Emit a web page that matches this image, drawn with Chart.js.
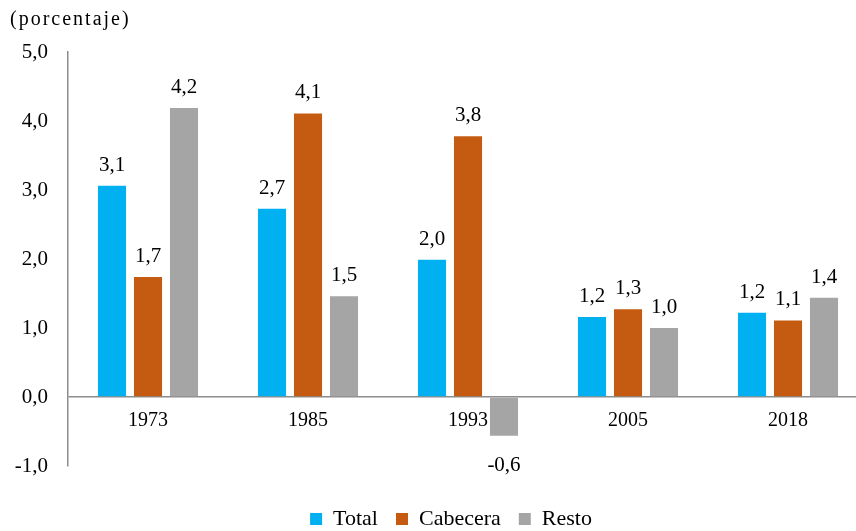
<!doctype html>
<html lang="es">
<head>
<meta charset="UTF-8">
<title>Crecimiento</title>
<script src="https://cdn.jsdelivr.net/npm/chart.js"></script>
<style>
  html, body { margin: 0; padding: 0; background: #fff; overflow: hidden; }
  #wrap { width: 880px; height: 540px; position: relative; }
</style>
</head>
<body>
<div id="wrap"><canvas id="chart"></canvas></div>
<script>
// años
const categories = ['1973', '1985', '1993', '2005', '2018'];
// tasas (porcentaje)
const total = [3.06, 2.73, 1.99, 1.16, 1.22];
const cabecera = [1.74, 4.11, 3.78, 1.27, 1.11];
const resto = [4.19, 1.46, -0.56, 1.0, 1.44];
const yTicks = [-1, 0, 1, 2, 3, 4, 5];

const serif = '"Liberation Serif", "Times New Roman", serif';
const axisGray = '#8c8c8c';

const fmt = v => v.toFixed(1).replace('.', ',');

// etiqueta del eje y arriba a la izquierda, y leyenda un poco a la derecha
const unitLabel = {
    id: 'unitLabel',
    afterLayout(chart) {
        if (chart.legend) {
            chart.legend.left += 12;
            chart.legend.right += 12;
        }
    },
    afterDraw(chart) {
        const ctx = chart.ctx;
        ctx.save();
        ctx.font = '20px ' + serif;
        ctx.letterSpacing = '2px';
        ctx.fillStyle = '#000';
        ctx.textBaseline = 'middle';
        ctx.textAlign = 'left';
        ctx.fillText('(porcentaje)', 10, 20);
        ctx.restore();
    }
};

// valores encima de las barras
const valueLabels = {
    id: 'valueLabels',
    afterDatasetsDraw(chart) {
        const ctx = chart.ctx;
        ctx.save();
        ctx.font = '21px ' + serif;
        ctx.fillStyle = '#000';
        ctx.textAlign = 'center';
        ctx.textBaseline = 'alphabetic';
        chart.data.datasets.forEach((ds, i) => {
            chart.getDatasetMeta(i).data.forEach((bar, j) => {
                const v = ds.data[j];
                if (v >= 0) {
                    ctx.fillText(fmt(v), bar.x, bar.y - 15);
                } else {
                    ctx.fillText(fmt(v), bar.x, bar.y + 35);
                }
            });
        });
        ctx.restore();
    }
};

const bars = (label, data, color) => ({
    label: label,
    data: data,
    backgroundColor: color,
    borderWidth: 0,
    categoryPercentage: 0.675,
    barPercentage: 0.78
});

new Chart(document.getElementById('chart'), {
    type: 'bar',
    data: {
        labels: categories,
        datasets: [
            bars('Total', total, '#00b0f0'),
            bars('Cabecera', cabecera, '#c55a11'),
            bars('Resto', resto, '#a5a5a5')
        ]
    },
    options: {
        responsive: true,
        maintainAspectRatio: false,
        animation: false,
        layout: { padding: { top: 52, left: 10, right: 12, bottom: 0 } },
        scales: {
            x: {
                position: { y: 0 },
                grid: { display: false, drawTicks: false },
                border: { display: false },
                ticks: { color: '#000', font: { family: serif, size: 20 }, padding: 12, maxRotation: 0 }
            },
            y: {
                min: -1,
                max: 5,
                afterFit(scale) { scale.width = 58; },
                afterBuildTicks(scale) { scale.ticks = yTicks.map(v => ({ value: v })); },
                grid: {
                    drawTicks: false,
                    color: c => (c.tick && c.tick.value === 0) ? axisGray : 'rgba(0,0,0,0)',
                    lineWidth: 1.5
                },
                border: { display: true, color: axisGray, width: 1.5 },
                ticks: {
                    color: '#000',
                    font: { family: serif, size: 21 },
                    padding: 20,
                    callback: v => fmt(v)
                }
            }
        },
        plugins: {
            legend: {
                position: 'bottom',
                title: { display: true, text: '', padding: { top: 12, bottom: 0 }, font: { size: 10 } },
                labels: {
                    boxWidth: 12,
                    boxHeight: 12,
                    padding: 18,
                    color: '#000',
                    font: { family: serif, size: 22 }
                }
            },
            tooltip: { enabled: false }
        }
    },
    plugins: [unitLabel, valueLabels]
});
</script>
</body>
</html>
